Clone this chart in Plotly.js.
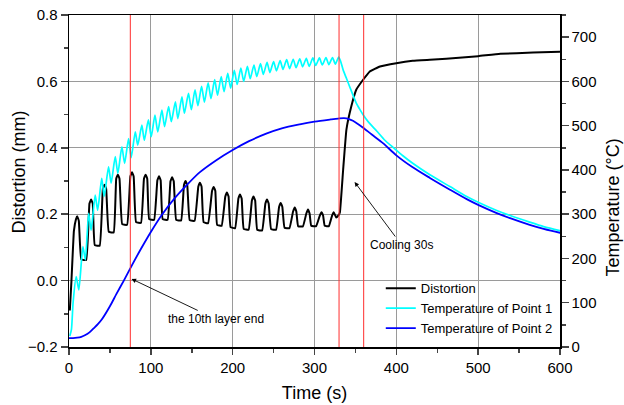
<!DOCTYPE html>
<html>
<head>
<meta charset="utf-8">
<script src="https://cdn.plot.ly/plotly-3.0.1.min.js"></script>
<style>html,body{margin:0;padding:0;background:#fff;}#chart{width:624px;height:405px;}</style>
</head>
<body>
<div id="chart"></div>
<script>
// Distortion (mm) vs time (s)
const distTime = [1, 3, 6, 8.5, 10, 12, 15, 21,
  25, 27, 29, 31.5, 37.5,
  41.4, 43.4, 45.4, 48.6, 54.6,
  57.7, 59.7, 61.7, 65, 71,
  75, 77, 79, 82, 88,
  91.6, 93.6, 95.6, 98, 104,
  108, 110, 112, 114.5, 120.5,
  124, 126, 128, 131, 137,
  140.5, 142.5, 144.5, 147.5, 153.5,
  158, 160, 162, 164.5, 170,
  174.8, 176.8, 178.8, 181, 186.5,
  191, 193, 195, 197.5, 203,
  207, 209, 211, 213.5, 219.5,
  223.5, 225.5, 227.5, 230, 236,
  240, 242, 244, 247, 253,
  256.7, 258.7, 260.7, 263.4, 269.4,
  273.8, 275.8, 277.8, 280, 285.8,
  290, 292, 294, 296, 302,
  306.5, 308.5, 310.5, 312.5, 317.6,
  321.5, 323.5, 325, 326.5, 329.5,
  331, 335, 339, 345, 351, 359.4, 367.6, 380, 400, 420, 441, 461, 500, 527, 567, 600];
const distortion = [-0.09, 0.0, 0.15, 0.185, 0.194, 0.18, 0.064, 0.062,
  0.232, 0.244, 0.232, 0.107, 0.105,
  0.277, 0.289, 0.277, 0.147, 0.145,
  0.307, 0.319, 0.307, 0.170, 0.168,
  0.314, 0.326, 0.314, 0.176, 0.174,
  0.307, 0.319, 0.307, 0.185, 0.183,
  0.302, 0.314, 0.302, 0.185, 0.183,
  0.299, 0.311, 0.299, 0.183, 0.181,
  0.288, 0.300, 0.288, 0.182, 0.180,
  0.283, 0.295, 0.283, 0.176, 0.173,
  0.270, 0.282, 0.270, 0.168, 0.165,
  0.253, 0.265, 0.253, 0.161, 0.158,
  0.247, 0.259, 0.247, 0.156, 0.153,
  0.241, 0.253, 0.241, 0.153, 0.151,
  0.232, 0.244, 0.232, 0.155, 0.153,
  0.222, 0.234, 0.222, 0.159, 0.158,
  0.208, 0.220, 0.208, 0.164, 0.163,
  0.202, 0.214, 0.202, 0.165, 0.164,
  0.196, 0.206, 0.196, 0.165, 0.164,
  0.196, 0.206, 0.198, 0.190, 0.197,
  0.205, 0.334, 0.455, 0.525, 0.575, 0.605, 0.630, 0.645, 0.655, 0.662, 0.665, 0.668, 0.676, 0.683, 0.687, 0.689];

// Temperature of Point 1 (°C)
const temp1Time = [1, 3, 5, 8.8, 12, 17, 20, 24, 27, 32, 35, 40, 43, 48.3, 51.5, 56.5, 59.7, 64.6, 68, 72.8, 76, 81, 84,
  89, 92, 97, 100.5, 105, 108.5, 113.5, 116.8, 121.7, 125, 130, 133, 138, 141, 146, 149.5, 154, 157.5, 162, 165.5,
  170, 173.5, 178, 181.5, 186, 189.5, 194, 197.5, 202, 205.5, 210, 213.5, 218, 221.5, 226, 229.5, 234, 237.5,
  242, 245.5, 250, 253.5, 258, 261.5, 266, 269.5, 274, 277.5, 282, 285.5, 290, 293.5, 298, 301.5, 306, 309.5,
  314, 317.5, 322, 325.5, 329.5, 332, 335, 339, 343, 347, 351, 355, 359, 366, 376, 386, 396, 408, 420, 441, 465,
  486, 500, 522, 539, 563, 580, 600, 615];
const temp1 = [25, 40, 100, 159, 129, 227, 197, 302, 264, 343, 309, 381, 340, 407, 370, 430, 392, 452, 415, 471, 428, 486, 456,
  501, 467, 513, 475, 524, 486, 535, 498, 543, 509, 554, 516, 565, 528, 573, 536, 581, 545, 589, 553,
  597, 561, 604, 569, 611, 577, 618, 585, 625, 593, 630, 600, 634, 606, 637, 611, 640, 616,
  643, 620, 645, 624, 647, 627, 649, 629, 650, 631, 651, 633, 652, 634, 653, 636, 653, 637,
  654, 638, 654, 639, 655, 645, 626, 607, 588, 569, 551, 538, 526, 508, 488, 467, 451, 432, 415, 389, 363,
  340, 327, 309, 297, 282, 272, 263, 257];

// Temperature of Point 2 (°C)
const temp2Time = [0, 5, 10, 15, 20, 25, 30, 35, 40, 50, 58, 67, 77, 88, 100, 114, 130, 145, 160, 180, 200, 220, 241, 260,
  282, 300, 320, 329, 336, 342, 347, 353, 359, 370, 384, 400, 420, 441, 465, 486, 500, 522, 539, 563, 580, 600, 615];
const temp2 = [20, 20, 21, 23, 27, 33, 42, 51, 62, 92, 120, 150, 185, 222, 260, 300, 338, 368, 395, 422, 445, 465, 482, 494,
  503, 509, 514, 516, 517, 515, 511, 504, 496, 480, 460, 433, 406, 382, 356, 334, 321, 303, 291, 276, 267, 258, 252];

// Marker lines (s)
const markerTimes = [75, 330, 360];

const FONT = '"Liberation Sans", Arial, sans-serif';

const traces = [
  {x: distTime, y: distortion, name: 'Distortion', type: 'scatter', mode: 'lines',
   line: {color: '#000000', width: 2, shape: 'spline', smoothing: 0.3}, yaxis: 'y'},
  {x: temp1Time, y: temp1, name: 'Temperature of Point 1', type: 'scatter', mode: 'lines',
   line: {color: '#00ffff', width: 1.7, shape: 'spline', smoothing: 0.6}, yaxis: 'y2'},
  {x: temp2Time, y: temp2, name: 'Temperature of Point 2', type: 'scatter', mode: 'lines',
   line: {color: '#0000ff', width: 1.8, shape: 'spline', smoothing: 0.8}, yaxis: 'y2'}
];

const shapes = markerTimes.map(t => ({
  type: 'line', xref: 'x', yref: 'paper', x0: t, x1: t, y0: 0, y1: 1,
  line: {color: 'rgba(255,50,50,0.85)', width: 1.2}, layer: 'above'
}));

const layout = {
  width: 624, height: 405,
  margin: {l: 69, r: 64, t: 15, b: 58},
  paper_bgcolor: '#ffffff', plot_bgcolor: '#ffffff',
  font: {family: FONT, size: 15, color: '#000'},
  showlegend: true,
  legend: {x: 0.635, y: 0.222, xanchor: 'left', yanchor: 'top', bgcolor: 'rgba(0,0,0,0)',
           font: {size: 13, family: FONT}, tracegroupgap: 0},
  xaxis: {range: [0, 600], tick0: 0, dtick: 100, ticks: 'outside', ticklen: 6, tickwidth: 1.5,
          minor: {dtick: 50, ticks: 'outside', ticklen: 4, tickwidth: 1.5, showgrid: false},
          showgrid: true, gridcolor: '#9a9a9a', gridwidth: 1, zeroline: false,
          showline: true, linecolor: '#000', linewidth: 1.5, mirror: true,
          tickfont: {size: 15}, title: {text: 'Time (s)', font: {size: 18}, standoff: 12}},
  yaxis: {range: [-0.2, 0.8], tick0: -0.2, dtick: 0.2, tickformat: '.1f', ticks: 'outside', ticklen: 7, tickwidth: 1.5,
          minor: {dtick: 0.1, ticks: 'outside', ticklen: 4, tickwidth: 1.5, showgrid: false},
          showgrid: true, gridcolor: '#9a9a9a', gridwidth: 1, zeroline: false,
          showline: true, linecolor: '#000', linewidth: 1.5,
          tickfont: {size: 15}},
  yaxis2: {range: [0, 750], tick0: 0, dtick: 100, overlaying: 'y', side: 'right', ticks: 'outside', ticklen: 7, tickwidth: 1.5,
           minor: {dtick: 50, ticks: 'outside', ticklen: 4, tickwidth: 1.5, showgrid: false},
           showgrid: false, zeroline: false, showline: true, linecolor: '#000', linewidth: 1.5,
           tickfont: {size: 15}},
  shapes: shapes,
  annotations: [
    {x: -0.101, y: 0.527, xref: 'paper', yref: 'paper', text: 'Distortion (mm)', textangle: -90,
     showarrow: false, xanchor: 'center', yanchor: 'middle', font: {size: 18, family: FONT, color: '#000'}},
    {x: 1.108, y: 0.42, xref: 'paper', yref: 'paper', text: 'Temperature (°C)', textangle: -90,
     showarrow: false, xanchor: 'center', yanchor: 'middle', font: {size: 18, family: FONT, color: '#000'}},
    {x: 76.5, y: 0.005, xref: 'x', yref: 'y', text: 'the 10th layer end', showarrow: true,
     ax: 84, ay: 40, arrowhead: 2, arrowsize: 1, arrowwidth: 0.9, arrowcolor: '#000',
     font: {size: 12, family: FONT, color: '#000'}},
    {x: 349, y: 0.297, xref: 'x', yref: 'y', text: 'Cooling 30s', showarrow: true,
     ax: 47, ay: 63, arrowhead: 2, arrowsize: 1, arrowwidth: 0.9, arrowcolor: '#000',
     font: {size: 12, family: FONT, color: '#000'}}
  ]
};

Plotly.newPlot('chart', traces, layout, {displayModeBar: false, staticPlot: true});
</script>
</body>
</html>
